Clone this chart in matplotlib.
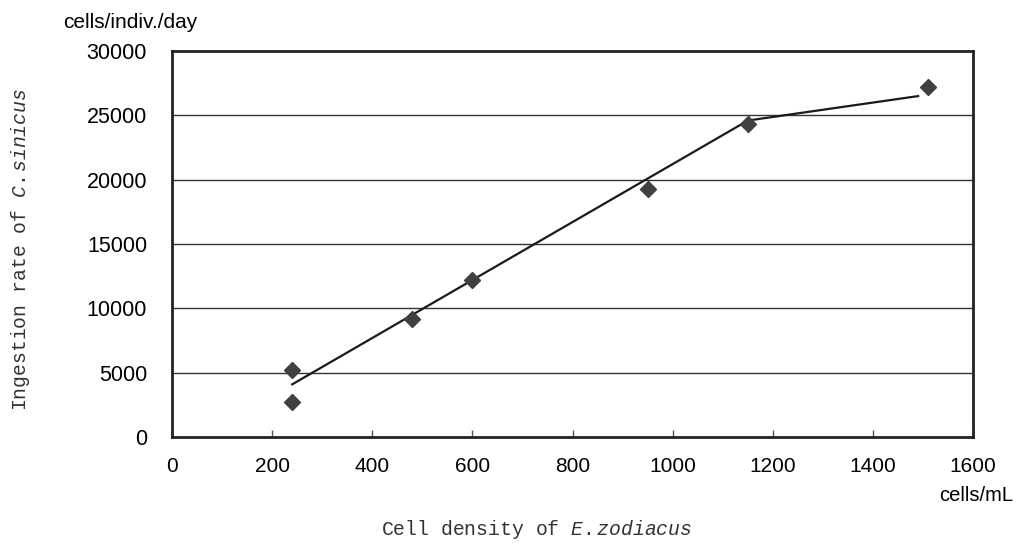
import numpy as np
import matplotlib
matplotlib.use("Agg")
import matplotlib.pyplot as plt

# measured ingestion rates
density = [240, 240, 480, 600, 950, 1150, 1510]
ingestion = [5200, 2700, 9200, 12200, 19300, 24300, 27200]

# fitted broken line
fit_x = [240, 1150, 1490]
fit_y = [4100, 24600, 26500]

x_ticks = [0, 200, 400, 600, 800, 1000, 1200, 1400, 1600]
y_ticks = [0, 5000, 10000, 15000, 20000, 25000, 30000]

sans = ["Liberation Sans", "DejaVu Sans"]
mono = ["Liberation Mono", "DejaVu Sans Mono"]

plt.rcParams["mathtext.fontset"] = "custom"
plt.rcParams["mathtext.it"] = "Liberation Mono:italic"
plt.rcParams["mathtext.rm"] = "Liberation Mono"


def main():
    fig = plt.figure(figsize=(10.18, 5.43), dpi=100)
    ax = fig.add_axes([0.169, 0.195, 0.787, 0.711])

    for y in y_ticks[1:-1]:
        ax.axhline(y, color="#333333", lw=1.0, zorder=1)

    ax.plot(fit_x, fit_y, color="#1a1a1a", lw=1.6, zorder=2)
    ax.plot(density, ingestion, ls="none", marker="D", ms=8,
            color="#404040", mec="#404040", zorder=3)

    ax.set_xlim(0, 1600)
    ax.set_ylim(0, 30000)
    ax.set_xticks(x_ticks)
    ax.set_yticks(y_ticks)
    ax.set_xticklabels([str(v) for v in x_ticks], family=sans, fontsize=15)
    ax.set_yticklabels([str(v) for v in y_ticks], family=sans, fontsize=15.5)
    ax.tick_params(axis="x", direction="in", length=5, width=1,
                   color="#555555", pad=14)
    ax.tick_params(axis="y", length=0, pad=18)

    for side in ax.spines.values():
        side.set_linewidth(2)
        side.set_color("#222222")

    fig.text(0.062, 0.958, "cells/indiv./day", family=sans, fontsize=15,
             ha="left", va="center")
    fig.text(0.995, 0.087, "cells/mL", family=sans, fontsize=14.5,
             ha="right", va="center")

    fig.text(0.527, 0.024, "Cell density of $\\it{E.zodiacus}$",
             family=mono, fontsize=14.2, color="#333333",
             ha="center", va="center")
    fig.text(0.02, 0.54, "Ingestion rate of $\\it{C.sinicus}$",
             family=mono, fontsize=14.2, color="#333333",
             ha="center", va="center", rotation=90)

    fig.savefig("out.png", dpi=100)


if __name__ == "__main__":
    main()
